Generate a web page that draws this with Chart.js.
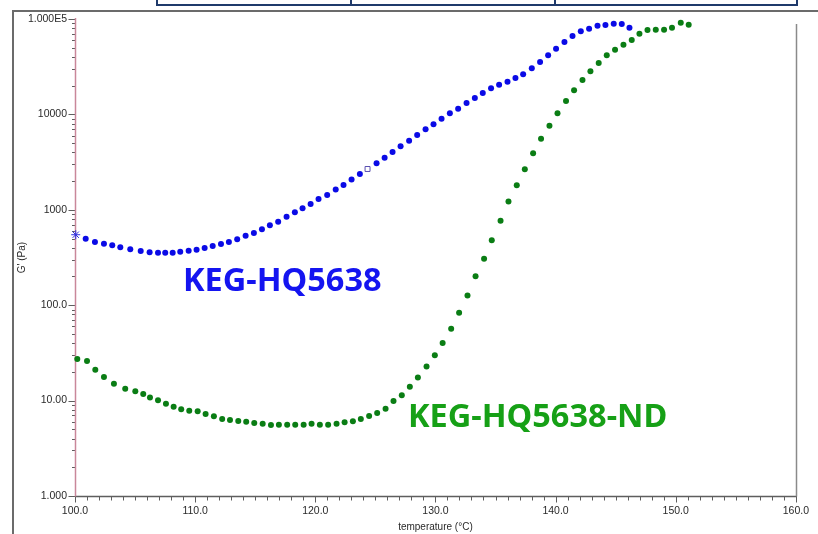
<!DOCTYPE html>
<html><head><meta charset="utf-8">
<script src="https://cdn.jsdelivr.net/npm/chart.js@4/dist/chart.umd.min.js"></script>
<style>
html,body{margin:0;padding:0;background:#fff;}
#wrap{position:relative;width:818px;height:534px;overflow:hidden;background:#fff;}
#frame{position:absolute;left:12px;top:10px;width:820px;height:540px;border-top:2px solid #6b6b6b;border-left:2px solid #6b6b6b;}
#tbl{position:absolute;left:156px;top:-12px;width:638px;height:14px;border:2px solid #1f3a6b;}
.dv{position:absolute;top:0;bottom:0;width:2px;background:#1f3a6b;}
canvas{position:absolute;left:0;top:0;}
</style></head>
<body>
<div id="wrap">
  <div id="frame"></div>
  <div id="tbl"><div class="dv" style="left:192px"></div><div class="dv" style="left:396px"></div></div>
  <canvas id="c" width="818" height="534"></canvas>
</div>
<script>
// ---------- data ----------
const seriesNames = ['KEG-HQ5638', 'KEG-HQ5638-ND'];

const blueTemp = [100.06,100.89,101.66,102.41,103.10,103.77,104.60,105.47,106.21,106.91,107.51,108.13,108.76,109.46,110.12,110.79,111.46,112.15,112.81,113.50,114.20,114.89,115.56,116.22,116.91,117.61,118.30,118.94,119.61,120.27,120.99,121.70,122.35,123.02,123.71,124.35,125.10,125.77,126.43,127.10,127.81,128.48,129.18,129.84,130.51,131.20,131.89,132.59,133.28,133.94,134.63,135.30,136.00,136.66,137.30,138.02,138.71,139.38,140.04,140.74,141.41,142.10,142.79,143.49,144.15,144.84,145.51,146.15];
const blueG = [548,498,460,441,425,405,385,370,359,355,355,355,364,373,382,398,418,438,460,491,535,571,625,688,750,847,940,1037,1151,1298,1430,1633,1820,2079,2373,2678,3071,3516,4035,4632,5300,6083,6981,7873,9020,10280,11480,13160,14860,16760,18780,20480,22020,24080,26320,30420,35420,41670,48850,57380,66340,74300,79100,85100,86500,89300,88700,81100];

const greenTemp = [100.19,101.00,101.69,102.41,103.24,104.18,105.02,105.68,106.24,106.91,107.57,108.21,108.84,109.51,110.21,110.87,111.56,112.25,112.90,113.59,114.25,114.92,115.62,116.31,116.97,117.66,118.33,119.03,119.69,120.38,121.07,121.77,122.44,123.13,123.79,124.48,125.15,125.85,126.51,127.20,127.87,128.54,129.26,129.95,130.60,131.31,131.97,132.67,133.34,134.05,134.69,135.42,136.08,136.77,137.44,138.13,138.79,139.49,140.16,140.87,141.54,142.24,142.90,143.59,144.26,144.95,145.65,146.34,146.98,147.65,148.34,149.03,149.69,150.42,151.08];
const greenG = [27.3,26.0,21.1,17.7,15.0,13.3,12.5,11.7,10.8,10.1,9.28,8.63,8.11,7.84,7.72,7.24,6.85,6.41,6.26,6.11,6.01,5.82,5.73,5.55,5.58,5.58,5.58,5.58,5.73,5.58,5.58,5.73,5.92,6.07,6.41,6.90,7.41,8.23,9.91,11.4,14.0,17.5,22.8,29.9,40.2,56.7,83.4,126,201,307,479,769,1219,1806,2660,3910,5560,7620,10270,13810,17900,22940,28310,34590,41670,47650,53810,60230,70150,76700,77300,77300,81100,91450,87100];

const xTickValues = [100,110,120,130,140,150,160];
const xTickLabels = ['100.0','110.0','120.0','130.0','140.0','150.0','160.0'];
const yTickValues = [1,10,100,1000,10000,100000];
const yTickLabels = ['1.000','10.00','100.0','1000','10000','1.000E5'];

// ---------- styling ----------
const BLUE = '#0a0ae6';
const GREEN = '#0a7d14';
const tickFont = {family:'"Liberation Sans", Arial, sans-serif', size:10.5};
const titleFont = {family:'"Liberation Sans", Arial, sans-serif', size:10};

function pts(xs, ys){ return xs.map((t,i)=>({x:t, y:ys[i]})); }

const axesPlugin = {
  id:'axesPlugin',
  beforeDatasetsDraw(chart){
    const {ctx, chartArea:a, scales:{x, y}} = chart;
    const L = Math.round(a.left)+0.5, B = Math.round(a.bottom)+0.5, R = Math.round(a.right)+0.5;
    ctx.save();
    ctx.lineWidth = 1;
    ctx.strokeStyle = '#5e5e5e';
    const ln = (x1,y1,x2,y2)=>{ctx.beginPath();ctx.moveTo(x1,y1);ctx.lineTo(x2,y2);ctx.stroke();};
    // x axis + right border
    ctx.lineWidth = 1.5;
    ln(a.left, B, a.right+1, B);
    ctx.strokeStyle = '#8a8a8a';
    ln(R, 24, R, B);
    ctx.strokeStyle = '#5e5e5e';
    ctx.lineWidth = 1;
    // x ticks every 1 degree
    for (let t = xTickValues[0]; t <= xTickValues[xTickValues.length-1]; t++) {
      const px = Math.round(x.getPixelForValue(t)) + 0.5;
      const len = (t % 10 === 0) ? 6 : 4;
      ln(px, B, px, B + len);
    }
    // y ticks (log decades + minors)
    for (let d = 0; d < yTickValues.length; d++) {
      const base = yTickValues[d];
      for (let m = 1; m <= 9; m++) {
        if (d === yTickValues.length-1 && m > 1) break;
        const py = Math.round(y.getPixelForValue(base*m)) + 0.5;
        const len = (m === 1) ? 7 : 3.5;
        ln(L - len, py, L, py);
      }
    }
    // y axis line (pinkish)
    ctx.strokeStyle = '#c9879a';
    ctx.lineWidth = 1.5;
    ln(L, a.top - 1, L, B);
    ctx.restore();
  },
  afterDatasetsDraw(chart){
    const {ctx} = chart;
    ctx.save();
    ctx.textBaseline = 'alphabetic';
    ctx.textAlign = 'left';
    ctx.font = 'bold 32.5px "Noto Sans", "Open Sans", sans-serif';
    ctx.fillStyle = '#1414f0';
    ctx.fillText(seriesNames[0], 183, 291);
    ctx.fillStyle = '#16a016';
    ctx.fillText(seriesNames[1], 408, 427);
    ctx.restore();
  }
};

new Chart(document.getElementById('c'), {
  type: 'scatter',
  data: {
    datasets: [
      {
        label: seriesNames[0],
        data: pts(blueTemp, blueG),
        showLine: false,
        clip: false,
        pointRadius: (c)=> c.dataIndex === 0 ? 4.5 : (c.dataIndex === 35 ? 3.5 : 3),
        pointStyle: (c)=> c.dataIndex === 0 ? 'star' : (c.dataIndex === 35 ? 'rect' : 'circle'),
        backgroundColor: (c)=> c.dataIndex === 35 ? '#ffffff' : BLUE,
        borderColor: (c)=> c.dataIndex === 0 ? '#3030e0' : (c.dataIndex === 35 ? '#5a4fb0' : BLUE),
        borderWidth: (c)=> (c.dataIndex === 0 || c.dataIndex === 35) ? 1 : 0,
        pointHoverRadius: 3
      },
      {
        label: seriesNames[1],
        data: pts(greenTemp, greenG),
        showLine: false,
        clip: false,
        pointRadius: 3,
        pointStyle: 'circle',
        backgroundColor: GREEN,
        borderColor: GREEN,
        borderWidth: 0,
        pointHoverRadius: 3
      }
    ]
  },
  options: {
    responsive: false,
    animation: false,
    devicePixelRatio: 1,
    layout: {padding: {top: 19, right: 21.5, left: 0, bottom: 0}},
    plugins: {legend: {display: false}, tooltip: {enabled: false}},
    scales: {
      x: {
        type: 'linear', min: 100, max: 160,
        afterBuildTicks: (s)=>{ s.ticks = xTickValues.map(v=>({value:v})); },
        afterFit: (s)=>{ s.height = 38; },
        grid: {display: false, drawTicks: false},
        border: {display: false},
        ticks: {
          callback: (v)=> xTickLabels[xTickValues.indexOf(v)],
          font: tickFont, color: '#2a2a2a', padding: 9, maxRotation: 0, autoSkip: false
        },
        title: {display: true, text: 'temperature (°C)', font: titleFont, color: '#2a2a2a', padding: {top: 0, bottom: 1}}
      },
      y: {
        type: 'logarithmic', min: 1, max: 100000,
        afterBuildTicks: (s)=>{ s.ticks = yTickValues.map(v=>({value:v})); },
        afterFit: (s)=>{ s.width = 75; },
        grid: {display: false, drawTicks: false},
        border: {display: false},
        ticks: {
          callback: (v)=> yTickLabels[yTickValues.indexOf(v)],
          font: tickFont, color: '#2a2a2a', padding: 8, autoSkip: false
        },
        title: {display: true, text: "G' (Pa)", font: titleFont, color: '#2a2a2a', padding: {top: 16, bottom: 0}}
      }
    }
  },
  plugins: [axesPlugin]
});
</script>
</body></html>
